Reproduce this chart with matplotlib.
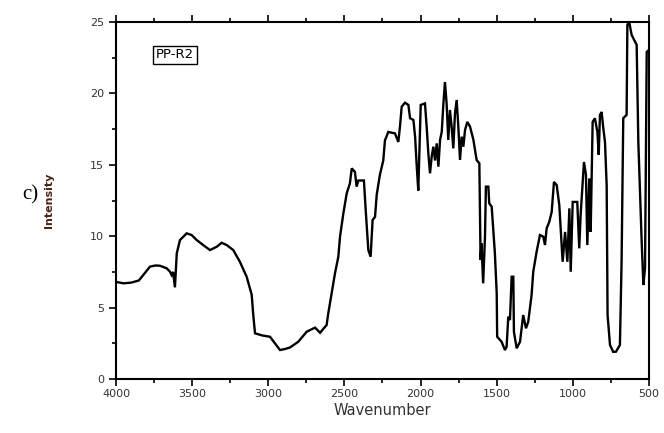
import matplotlib
matplotlib.use("Agg")
import matplotlib.pyplot as plt
from matplotlib.ticker import MultipleLocator

wavenumber = [4000, 3950, 3900, 3850, 3821, 3777, 3740, 3711, 3667, 3645, 3635, 3625, 3613, 3601,
              3580, 3536, 3503, 3470, 3430, 3383, 3339, 3306, 3273, 3230, 3186, 3142, 3109, 3098,
              3087, 3040, 2989, 2956, 2923, 2890, 2857, 2803, 2748, 2693, 2660, 2617, 2606, 2584,
              2562, 2540, 2529, 2507, 2485, 2464, 2452, 2431, 2420, 2409, 2372, 2359, 2343, 2328,
              2315, 2299, 2288, 2267, 2245, 2234, 2212, 2168, 2146, 2135, 2124, 2102, 2080, 2069,
              2047, 2036, 2025, 2015, 1999, 1971, 1960, 1949, 1938, 1927, 1916, 1905, 1894, 1883,
              1872, 1861, 1850, 1840, 1829, 1818, 1807, 1796, 1785, 1774, 1763, 1752, 1741, 1730,
              1719, 1708, 1693, 1675, 1653, 1632, 1614, 1606, 1600, 1589, 1577, 1571, 1555, 1549,
              1533, 1512, 1500, 1497, 1468, 1446, 1435, 1424, 1413, 1402, 1391, 1387, 1369, 1347,
              1326, 1308, 1293, 1271, 1260, 1238, 1216, 1194, 1183, 1172, 1155, 1139, 1124, 1106,
              1089, 1080, 1067, 1051, 1036, 1023, 1014, 1001, 986, 971, 958, 949, 935, 927, 914,
              905, 892, 883, 870, 855, 839, 830, 822, 811, 800, 789, 778, 772, 756, 735, 717, 691,
              680, 669, 647, 642, 630, 614, 603, 581, 570, 548, 537, 526, 515, 505, 500]
intensity = [6.8, 6.7, 6.75, 6.9, 7.28, 7.87, 7.95, 7.93, 7.75, 7.51, 7.28, 7.5, 6.42, 8.8,
             9.73, 10.2, 10.08, 9.73, 9.4, 9.03, 9.26, 9.54, 9.38, 9.03, 8.2, 7.16, 5.9, 4.4,
             3.2, 3.05, 2.96, 2.5, 2.03, 2.1, 2.21, 2.61, 3.31, 3.6, 3.24, 3.78, 4.6, 6.0,
             7.4, 8.56, 9.97, 11.6, 13.0, 13.7, 14.75, 14.5, 13.47, 13.9, 13.9, 11.6, 9.03, 8.56,
             11.13, 11.36, 12.9, 14.3, 15.3, 16.7, 17.3, 17.2, 16.6, 17.7, 19.07, 19.35, 19.19, 18.26,
             18.14, 16.97, 14.87, 13.2, 19.19, 19.3, 17.67, 15.8, 14.4, 15.57, 16.27, 15.3, 16.5, 14.87,
             16.74, 17.3, 19.3, 20.8, 19.3, 16.74, 18.84, 17.67, 16.15, 18.6, 19.54, 17.67, 15.34, 16.97,
             16.27, 17.44, 18.0, 17.67, 16.74, 15.34, 15.1, 8.33, 9.5, 6.7, 9.97, 13.47, 13.47, 12.3,
             12.07, 8.8, 6.0, 2.96, 2.61, 2.03, 2.26, 4.36, 4.13, 7.16, 7.16, 3.31, 2.15, 2.61,
             4.48, 3.55, 4.01, 5.88, 7.51, 8.91, 10.08, 9.97, 9.38, 10.55, 11.0, 11.7, 13.8, 13.58,
             12.18, 10.55, 8.21, 10.3, 8.21, 11.95, 7.51, 12.4, 12.4, 12.4, 9.15, 11.48, 13.8, 15.2, 14.3,
             9.38, 14.05, 10.3, 18.0, 18.26, 17.3, 15.7, 18.5, 18.7, 17.55, 16.6, 13.58, 4.48, 2.38, 1.9, 1.91, 2.38,
             8.21, 18.26, 18.5, 24.8, 25.0, 24.1, 23.86, 23.4, 16.6, 9.6, 6.58, 7.75, 22.9, 23.0, 22.9]

x_ticks = [4000, 3500, 3000, 2500, 2000, 1500, 1000, 500]
y_ticks = [0, 5, 10, 15, 20, 25]

fig = plt.figure(figsize=(6.64, 4.33), dpi=100)
ax = fig.add_axes([0.1747, 0.1247, 0.8027, 0.8245])

ax.plot(wavenumber, intensity, color="black", lw=1.7, solid_joinstyle="miter", clip_on=True)

ax.set_xlim(4000, 500)
ax.set_ylim(0, 25)
ax.set_xticks(x_ticks)
ax.set_xticklabels([str(t) for t in x_ticks])
ax.set_yticks(y_ticks)
ax.set_yticklabels([str(t) for t in y_ticks])
ax.xaxis.set_minor_locator(MultipleLocator(250))
ax.yaxis.set_minor_locator(MultipleLocator(2.5))

for s in ax.spines.values():
    s.set_linewidth(1.5)

ax.tick_params(which="both", direction="out", top=True, right=False, width=1.2,
               labelsize=8, labelcolor="#333333")
ax.tick_params(which="major", length=5)
ax.tick_params(which="minor", length=3)
ax.tick_params(axis="x", pad=2)

ax.set_xlabel("Wavenumber", fontsize=10.5, color="#333333", labelpad=3)
ax.set_ylabel("Intensity", fontsize=8, color="#4a2416", fontweight="bold", labelpad=26)

ax.text(0.075, 0.908, "PP-R2", transform=ax.transAxes, fontsize=9.5, va="center", ha="left",
        bbox=dict(boxstyle="square,pad=0.2", fc="white", ec="black", lw=1.0))

fig.text(0.033, 0.55, "c)", fontsize=15, family="Liberation Serif", va="center", ha="left")

fig.savefig("out.png", dpi=100)
